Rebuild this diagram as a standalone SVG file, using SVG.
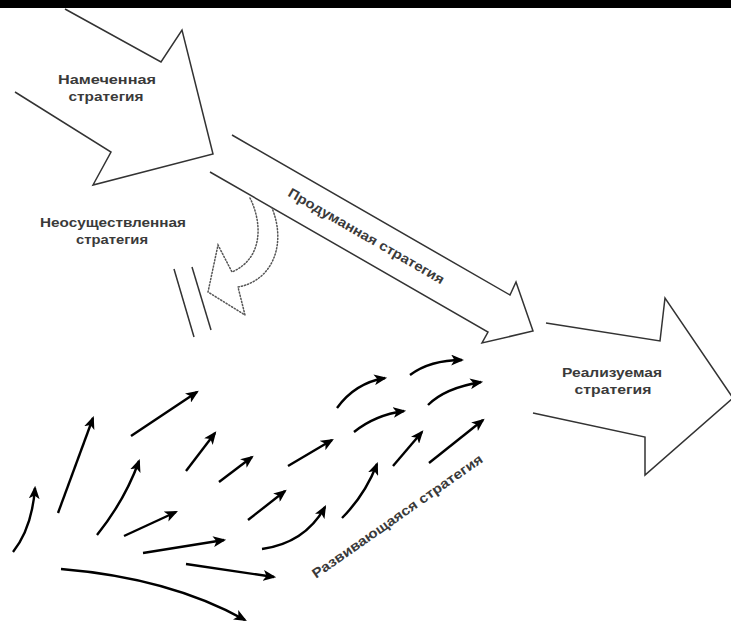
<svg xmlns="http://www.w3.org/2000/svg" width="731" height="623" viewBox="0 0 731 623">
<defs>
<style>
.outline{fill:none;stroke:#333;stroke-width:1.5;stroke-linejoin:miter}
.dotted{fill:none;stroke:#555;stroke-width:1.5;stroke-dasharray:1.2 2;stroke-linecap:round}
.bar{fill:none;stroke:#333;stroke-width:1.5}
.lbl{font-family:"Liberation Sans",Arial,sans-serif;font-size:13.5px;font-weight:bold;fill:#3a3a3a}
.em{fill:none;stroke:#000;stroke-width:2.4;marker-end:url(#ah)}
</style>
<marker id="ah" viewBox="0 0 12 10" refX="10" refY="5" markerWidth="13" markerHeight="11" markerUnits="userSpaceOnUse" orient="auto">
<path d="M0,0 L12,5 L0,10 L3,5 z" fill="#000"/>
</marker>
</defs>
<rect x="0" y="0" width="731" height="8" fill="#000"/>
<rect x="0" y="8" width="731" height="615" fill="#fff"/>

<g id="intended">
<path class="outline" d="M65,9 L161,62 L182,30 L213,154 L93,185 L111,152 L15,92"/>
<text class="lbl" x="107" y="84" text-anchor="middle" textLength="98" lengthAdjust="spacingAndGlyphs">Намеченная</text>
<text class="lbl" x="106" y="101" text-anchor="middle" textLength="75" lengthAdjust="spacingAndGlyphs">стратегия</text>
</g>

<g id="deliberate">
<path class="outline" d="M232,135 L510,295 L516,282 L533,331 L482,343 L488,332 L210,172"/>
<text class="lbl" transform="translate(364,240) rotate(30)" x="0" y="0" text-anchor="middle" textLength="178" lengthAdjust="spacingAndGlyphs">Продуманная стратегия</text>
</g>

<g id="unrealized">
<path class="dotted" d="M250,198 C262,222 264,258 232,272 L218,245 L208,292 L245,315 L238,287 C272,281 287,245 272,208"/>
<line class="bar" x1="174" y1="269" x2="194" y2="337"/>
<line class="bar" x1="192" y1="267" x2="211" y2="330"/>
<text class="lbl" x="113" y="227" text-anchor="middle" textLength="146" lengthAdjust="spacingAndGlyphs">Неосуществленная</text>
<text class="lbl" x="112" y="244" text-anchor="middle" textLength="72" lengthAdjust="spacingAndGlyphs">стратегия</text>
</g>

<g id="realized">
<path class="outline" d="M546,323 L660,341 L665,298 L733,398 L645,475 L645,437 L533,413"/>
<text class="lbl" x="612" y="377" text-anchor="middle" textLength="100" lengthAdjust="spacingAndGlyphs">Реализуемая</text>
<text class="lbl" x="613" y="394" text-anchor="middle" textLength="77" lengthAdjust="spacingAndGlyphs">стратегия</text>
</g>

<g id="emergent">
<text class="lbl" transform="translate(400,520) rotate(-35)" x="0" y="0" text-anchor="middle" textLength="205" lengthAdjust="spacingAndGlyphs">Развивающаяся стратегия</text>
</g>

<g id="connectors">
<path class="em" d="M13,552 Q32,528 35,488"/>
<path class="em" d="M58,513 L93,418"/>
<path class="em" d="M131,436 L197,392"/>
<path class="em" d="M97,535 Q125,500 139,461"/>
<path class="em" d="M186,471 L215,433"/>
<path class="em" d="M219,482 L252,457"/>
<path class="em" d="M124,536 L176,512"/>
<path class="em" d="M143,553 L224,540"/>
<path class="em" d="M248,520 L285,491"/>
<path class="em" d="M186,564 L274,577"/>
<path class="em" d="M61,569 Q170,578 245,620"/>
<path class="em" d="M262,549 Q305,543 325,507"/>
<path class="em" d="M288,466 L332,440"/>
<path class="em" d="M337,408 Q355,383 385,378"/>
<path class="em" d="M354,432 Q375,415 404,411"/>
<path class="em" d="M410,375 Q430,360 462,360"/>
<path class="em" d="M428,405 Q445,388 481,382"/>
<path class="em" d="M342,518 Q365,495 377,464"/>
<path class="em" d="M393,466 L422,432"/>
<path class="em" d="M429,463 L483,420"/>
</g>
</svg>
